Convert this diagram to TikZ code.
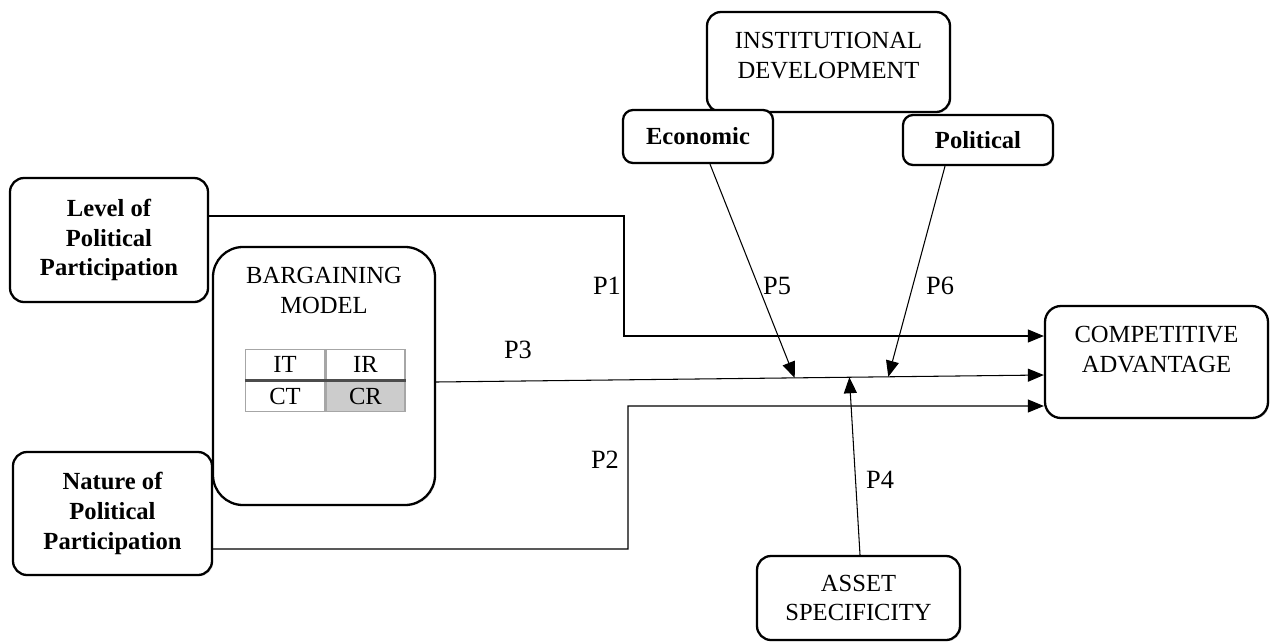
\documentclass[tikz,border=0pt]{standalone}
\usepackage{fontspec}
\setmainfont{Liberation Serif}
\usetikzlibrary{arrows.meta,positioning,shadows,calc}

\tikzset{
  box/.style={draw, rounded corners=0.28cm, line width=1.3pt, fill=white,
    drop shadow={shadow xshift=0.7pt, shadow yshift=-0.7pt, opacity=0.3}},
  boxtext/.style={align=center, font=\fontsize{14}{17}\selectfont},
  boldtext/.style={align=center, font=\fontsize{14}{17}\selectfont\bfseries},
  plabel/.style={font=\fontsize{15}{18}\selectfont},
  link/.style={line width=0.6pt, -{Triangle[length=0.32cm,width=0.26cm]}},
  cell/.style={draw=gray!70, line width=0.8pt, minimum width=1.58cm,
    minimum height=0.61cm, inner sep=0pt, font=\fontsize{14}{17}\selectfont}
}

\begin{document}
\begin{tikzpicture}
    \useasboundingbox (0,0) rectangle (25.44,12.86);
        %left boxes
    \node[box, boldtext, minimum width=3.96cm, minimum height=2.48cm] (lpp) at (2.18,8.06) {Level of\\Political\\Participation};
    \node[box, boldtext, minimum width=3.98cm, minimum height=2.46cm] (npp) at (2.25,2.59) {Nature of\\Political\\Participation};
        %bargaining model with its table
    \node[box, rounded corners=0.6cm, minimum width=4.44cm, minimum height=5.16cm] (bm) at (6.48,5.34) {};
    \node[boxtext, below=0.3cm of bm.north] (bmtxt) {BARGAINING\\MODEL};
    \node[cell] (it) at (5.70,5.57) {IT};
    \node[cell, right=0pt of it] (ir) {IR};
    \node[cell, below=0pt of it] (ct) {CT};
    \node[cell, fill=gray!40, below=0pt of ir] (cr) {CR};
    \draw[gray!60!black, line width=1.8pt] (ct.north west) -- (cr.north east);
        %institutional development
    \node[box, minimum width=4.86cm, minimum height=2.0cm] (inst) at (16.57,11.62) {};
    \node[boxtext, below=0.3cm of inst.north] (insttxt) {INSTITUTIONAL\\DEVELOPMENT};
    \node[box, boldtext, rounded corners=0.2cm, minimum width=3.0cm, minimum height=1.06cm] (eco) at (13.96,10.13) {Economic};
    \node[box, boldtext, rounded corners=0.2cm, minimum width=3.0cm, minimum height=1.0cm] (pol) at (19.56,10.06) {Political};
        %competitive advantage and asset specificity
    \node[box, rounded corners=0.32cm, minimum width=4.46cm, minimum height=2.24cm] (ca) at (23.13,5.62) {};
    \node[boxtext, below=0.3cm of ca.north] (catxt) {COMPETITIVE\\ADVANTAGE};
    \node[box, boxtext, minimum width=4.06cm, minimum height=1.68cm] (as) at (17.17,0.9) {ASSET\\SPECIFICITY};

        %%%%%%%%%%%%%%%%%%%%%%%%%%%%%%%%%%%
        %%%paths into competitive advantage
        %%%%%%%%%%%%%%%%%%%%%%%%%%%%%%%%%%%
    \coordinate (p1turn) at (12.48,6.14);
    \coordinate (p2turn) at (12.56,4.74);
    \coordinate (p3s) at ([yshift=-0.12cm]bm.east);
    \coordinate (p3e) at ([yshift=-0.26cm]ca.west);
    \draw[link] ([yshift=0.48cm]lpp.east) -| (p1turn) -- ([yshift=0.52cm]ca.west);
    \draw[link] ([yshift=-0.71cm]npp.east) -| (p2turn) -- ([yshift=-0.88cm]ca.west);
    \draw[link] (p3s) -- (p3e);
        %moderators onto the P3 line
    \draw[link] ([xshift=0.24cm]eco.south) -- ($(p3s)!0.59!(p3e)$);
    \draw[link] ([xshift=-0.66cm]pol.south) -- ($(p3s)!0.744!(p3e)$);
    \draw[link] ([xshift=0.03cm]as.north) -- ($(p3s)!0.68!(p3e)$);

        %path labels
    \node[plabel] (l1) at (12.14,7.14) {P1};
    \node[plabel] (l2) at (12.10,3.66) {P2};
    \node[plabel] (l3) at (10.36,5.86) {P3};
    \node[plabel] (l4) at (17.60,3.26) {P4};
    \node[plabel] (l5) at (15.54,7.14) {P5};
    \node[plabel] (l6) at (18.80,7.14) {P6};
\end{tikzpicture}
\end{document}
